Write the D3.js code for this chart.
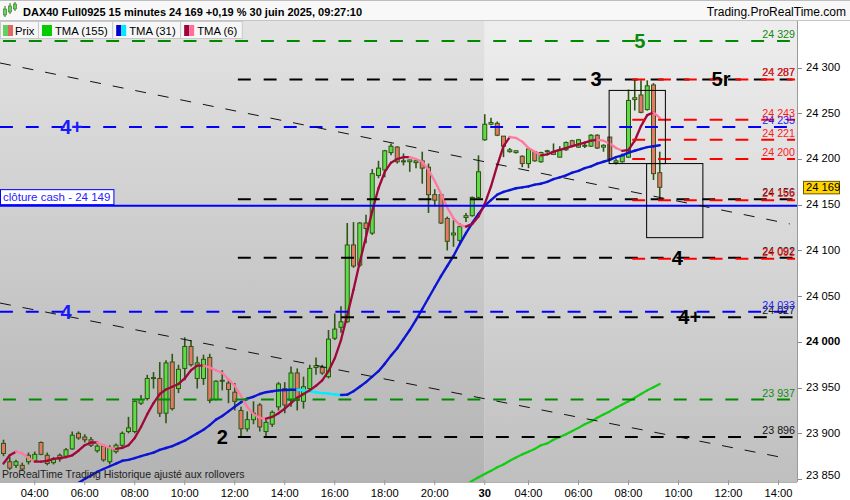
<!DOCTYPE html>
<html><head><meta charset="utf-8">
<script src="https://cdn.jsdelivr.net/npm/d3@7/dist/d3.min.js"></script>
<style>
body{margin:0;background:#fff;}
svg{display:block;font-family:"Liberation Sans",Arial,sans-serif;}
</style></head><body>
<svg id="c" width="850" height="500"></svg>
<script>
// ---------- DATA ----------
const opens=[23889,23869,23865,23865,23869,23870,23890,23876,23868,23876,
23875,23883,23900,23896,23893,23881,23886,23869,23880,23887,
23902,23902,23933,23938,23960,23960,23922,23978,23949,23971,
23995,23960,23960,23983,23937,23957,23955,23945,23925,23905,
23915,23931,23902,23910,23929,23949,23936,23966,23935,23949,
23972,23972,23962,24004,24016,24022,24106,24084,24130,24119,
24182,24188,24207,24213,24198,24197,24196,24198,24191,24161,
24161,24135,24117,24111,24136,24138,24158,24221,24238,24239,
24225,24208,24207,24203,24195,24208,24197,24208,24208,24202,
24210,24220,24213,24214,24214,24226,24213,24224,24196,24197,
24202,24265,24270,24254,24281,24185];
const highs=[23893,23874,23871,23868,23879,23880,23891,23879,23874,23878,
23884,23902,23902,23899,23896,23888,23888,23887,23889,23902,
23918,23936,23942,23964,23967,23978,23980,23987,23975,24005,
24002,23984,23986,23987,23958,23969,23958,23955,23929,23924,
23935,23933,23916,23925,23956,23956,23973,23971,23962,23975,
23983,23975,24013,24031,24039,24130,24131,24131,24139,24189,
24198,24210,24217,24214,24206,24199,24199,24208,24195,24167,
24161,24137,24133,24130,24141,24159,24204,24249,24245,24241,
24225,24212,24209,24204,24212,24208,24208,24210,24217,24214,
24219,24221,24222,24218,24227,24227,24216,24224,24200,24206,
24276,24287,24286,24286,24283,24208];
const lows=[23875,23860,23862,23859,23866,23868,23876,23865,23866,23869,
23873,23882,23893,23890,23885,23879,23869,23866,23878,23885,
23900,23900,23931,23936,23949,23918,23911,23925,23944,23958,
23973,23949,23953,23933,23936,23947,23933,23925,23896,23902,
23910,23902,23896,23907,23925,23922,23929,23925,23927,23947,
23964,23964,23960,24002,24010,24021,24081,24082,24108,24117,
24179,24180,24204,24195,24193,24186,24190,24173,24141,24148,
24129,24100,24104,24106,24131,24137,24157,24220,24237,24225,
24202,24207,24206,24191,24190,24197,24196,24207,24205,24202,
24209,24213,24212,24212,24213,24211,24208,24199,24194,24196,
24201,24253,24250,24253,24177,24156];
const closes=[23878,23862,23869,23861,23876,23877,23877,23867,23872,23872,
23882,23898,23895,23893,23887,23886,23871,23884,23887,23900,
23906,23935,23937,23960,23961,23922,23977,23927,23970,23995,
23975,23977,23981,23936,23957,23958,23948,23935,23905,23915,
23922,23907,23912,23923,23954,23931,23966,23936,23951,23971,
23974,23966,24003,24014,24022,24106,24083,24130,24124,24184,
24190,24209,24214,24197,24197,24199,24198,24190,24161,24155,
24130,24110,24119,24126,24138,24158,24186,24238,24240,24226,
24214,24210,24209,24195,24211,24198,24207,24209,24205,24210,
24218,24214,24221,24215,24226,24212,24215,24200,24198,24204,
24264,24267,24251,24280,24184,24169];
const tma6=[23867,23876,23880,23878,23873,23869,23869,23870,23872,23873,
23874,23876,23881,23887,23890,23890,23887,23884,23883,23884,
23887,23895,23907,23921,23933,23943,23948,23951,23954,23960,
23969,23974,23974,23972,23969,23966,23959,23952,23941,23929,
23921,23917,23916,23918,23922,23927,23933,23939,23943,23947,
23952,23958,23968,23982,24002,24029,24057,24087,24115,24143,
24168,24186,24196,24200,24202,24202,24200,24197,24188,24176,
24162,24147,24135,24128,24126,24129,24137,24151,24170,24193,
24214,24224,24223,24219,24212,24208,24204,24205,24208,24210,
24212,24214,24216,24218,24220,24221,24220,24217,24212,24209,
24210,24220,24236,24248,24251,24245];
const tma31=[null,null,null,null,null,null,null,null,null,null,
null,null,23846,23850,23854,23858,23861,23864,23867,23870,
23871,23873,23875,23877,23879,23882,23884,23886,23889,23892,
23896,23900,23904,23909,23915,23919,23924,23929,23934,23938,
23940,23943,23945,23946,23947,23947.3,23947.6,23947.7,23947.2,23946,
23945,23944,23943.5,23942.5,23942,23942.4,23946,23951,23956,23962,
23968,23976,23985,23993,24003,24013,24024,24036,24048,24060,
24072,24083,24094,24107,24119,24130,24140,24149,24155,24161,
24164,24166,24168,24169,24170,24172,24173,24175,24178,24180,
24182,24185,24187,24190,24192,24195,24197,24199,24202,24204,
24207,24209,24211,24213,24214,24215];
const tma155=[null,null,null,null,null,null,null,null,null,null,
null,null,null,null,null,null,null,null,null,null,
null,null,null,null,null,null,null,null,null,null,
null,null,null,null,null,null,null,null,null,null,
null,null,null,null,null,null,null,null,null,null,
null,null,null,null,null,null,null,null,null,null,
null,null,null,null,null,null,null,null,null,null,
null,null,null,null,23844,23848,23852,23855.5,23859,23863,
23866,23870,23873.5,23877,23880,23883,23887,23889,23893,23896,
23899,23902.5,23906,23910,23913,23917,23920.5,23924,23928,23931.5,
23935,23939,23943,23947,23950.5,23954];

const timeTickBars=[5,13,21,29,37,45,53,61,69,77,84,92,100,108,116,124];
const timeTickLabels=["04:00","06:00","08:00","10:00","12:00","14:00","16:00","18:00","20:00","30","04:00","06:00","08:00","10:00","12:00","14:00"];
const priceTicks=[23850,23900,23950,24000,24050,24100,24150,24200,24250,24300];
const dayStartBar=77;

const greenLevels=[24329,23937];
const blueLevels=[24235,24033];
const blackLevels=[24287,24156,24092,24027,23896];
const redLevels=[24287,24243,24221,24200,24155,24091];
const blackStartBar=37.5;
const redStartBar=100.6;
const cashClose=24149;
const lastPrice=24169;

const trendLines=[{i0:-0.56,p0:24305,i1:125.8,p1:24129},{i0:-0.56,p0:24042.5,i1:125.8,p1:23872}];
const boxes=[{i0:96.9,i1:105.9,p0:24275,p1:24195},{i0:102.9,i1:111.9,p0:24195,p1:24114}];
const waveText=["5","3","5r","4","4+","2","4+","4"];
const waveBar=[101.8,94.8,114.8,107.8,109.8,35,10.9,10];
const wavePrice=[24329,24287,24287,24092,24027,23896,24235,24033];
const waveGroup=["green","black","black","black","black","black","blue","blue"];

const legendLabels=["Prix","TMA (155)","TMA (31)","TMA (6)"];

// ---------- SETUP ----------
const svg=d3.select("#c");
const W=850,H=500,pL=0,pR=797,pT=21,pB=482;
const x=d3.scaleLinear().domain([-0.56,126.96]).range([pL,pR]);
const y=d3.scaleLinear().domain([23846.8,24350.9]).range([pB,pT]);
const fmt=v=>d3.format(",d")(Math.round(v)).replace(/,/g," ");
const FS=10.7;
const col={green:"#008a00",blue:"#0000ff",black:"#000000",red:"#ff0000"};
const txtCol={green:"#118811",blue:"#2222ff",black:"#111111",red:"#ff1a1a"};

const defs=svg.append("defs");
function grad(id,c1,c2){const g=defs.append("linearGradient").attr("id",id).attr("x1",0).attr("y1",0).attr("x2",0).attr("y2",1);
g.append("stop").attr("offset","0%").attr("stop-color",c1);g.append("stop").attr("offset","100%").attr("stop-color",c2);}
grad("gL","#e3e3e3","#b3b3b3");
grad("gR","#eeeeee","#bfbfbf");
defs.append("clipPath").attr("id","clip").append("rect").attr("x",pL).attr("y",pT).attr("width",pR-pL).attr("height",pB-pT);

svg.append("rect").attr("width",W).attr("height",H).attr("fill","#ffffff");
svg.append("rect").attr("x",pL).attr("y",pT).attr("width",x(dayStartBar)-pL).attr("height",pB-pT).attr("fill","url(#gL)");
svg.append("rect").attr("x",x(dayStartBar)).attr("y",pT).attr("width",pR-x(dayStartBar)).attr("height",pB-pT).attr("fill","url(#gR)");

// header
svg.append("rect").attr("x",0).attr("y",0).attr("width",W).attr("height",pT).attr("fill","#f8f8f8");
svg.append("line").attr("x1",0).attr("x2",W).attr("y1",0.5).attr("y2",0.5).attr("stroke","#bdbdbd");
svg.append("line").attr("x1",0).attr("x2",W).attr("y1",pT-0.5).attr("y2",pT-0.5).attr("stroke","#c4c4c4");
const icon=svg.append("g");
[[5,9,15,6,17],[10,6,12,3,14],[15,4,9,2,11]].forEach(a=>{
  icon.append("line").attr("x1",a[0]).attr("x2",a[0]).attr("y1",a[3]).attr("y2",a[4]).attr("stroke","#3a6a1a").attr("stroke-width",1);
  icon.append("rect").attr("x",a[0]-1.5).attr("y",a[1]).attr("width",3).attr("height",a[2]-a[1]).attr("fill","#5fd35f").attr("stroke","#3a6a1a").attr("stroke-width",0.6);
});
svg.append("text").attr("x",23).attr("y",15.5).attr("font-size",FS+0.3).attr("font-weight","bold").attr("fill","#000")
  .text("DAX40 Full0925 15 minutes 24 169 +0,19 % 30 juin 2025, 09:27:10");
svg.append("text").attr("x",846).attr("y",15.5).attr("text-anchor","end").attr("font-size",12).attr("fill","#000").text("Trading.ProRealTime.com");

const plot=svg.append("g").attr("clip-path","url(#clip)");

// ---------- CANDLES ----------
const bars=d3.range(opens.length).map(i=>({i,o:opens[i],h:highs[i],l:lows[i],c:closes[i]}));
plot.append("g").selectAll("line").data(bars).join("line")
  .attr("x1",d=>x(d.i)).attr("x2",d=>x(d.i)).attr("y1",d=>y(d.h)).attr("y2",d=>y(d.l))
  .attr("stroke","#2f5514").attr("stroke-width",1.6);
plot.append("g").selectAll("rect").data(bars).join("rect")
  .attr("x",d=>x(d.i)-2).attr("width",4)
  .attr("y",d=>y(Math.max(d.o,d.c))).attr("height",d=>Math.max(1,Math.abs(y(d.o)-y(d.c))))
  .attr("fill",d=>d.c>=d.o?"#5edc48":"#e57868").attr("stroke","#2f5514").attr("stroke-width",1);

// ---------- MOVING AVERAGES ----------
function drawMA(vals,up,down,w){
  const segs=[];
  for(let i=0;i<vals.length-1;i++){
    if(vals[i]==null||vals[i+1]==null)continue;
    segs.push({i,a:vals[i],b:vals[i+1]});
  }
  plot.append("g").selectAll("line").data(segs).join("line")
    .attr("x1",d=>x(d.i)).attr("x2",d=>x(d.i+1)).attr("y1",d=>y(d.a)).attr("y2",d=>y(d.b))
    .attr("stroke",d=>d.b>=d.a?up:down).attr("stroke-width",w).attr("stroke-linecap","round");
}
drawMA(tma155,"#11cc11","#11cc11",2.2);
drawMA(tma31,"#0a14d4","#00eeff",2.4);
drawMA(tma6,"#a0083c","#ff78a0",2.3);

// ---------- LEVEL LINES ----------
const period=25.8;
function levelLines(vals,startBar,color,phase){
  const x1=startBar==null?pL:x(startBar);
  const off=((x1-phase)%period+period)%period;
  plot.append("g").selectAll("line").data(vals).join("line")
    .attr("x1",x1).attr("x2",pR-2).attr("y1",d=>y(d)).attr("y2",d=>y(d))
    .attr("stroke",color).attr("stroke-width",2)
    .attr("stroke-dasharray",(period/2)+","+(period/2)).attr("stroke-dashoffset",off);
}
levelLines(greenLevels,null,col.green,3);
levelLines(blueLevels,null,col.blue,0);
levelLines(blackLevels,blackStartBar,col.black,x(blackStartBar));
levelLines(redLevels,redStartBar,col.red,x(redStartBar));

plot.append("line").attr("x1",pL).attr("x2",pR).attr("y1",y(cashClose)).attr("y2",y(cashClose))
  .attr("stroke","#0000ff").attr("stroke-width",2);

plot.append("g").selectAll("line").data(trendLines).join("line")
  .attr("x1",d=>x(d.i0)).attr("y1",d=>y(d.p0)).attr("x2",d=>x(d.i1)).attr("y2",d=>y(d.p1))
  .attr("stroke","#111").attr("stroke-width",1).attr("stroke-dasharray","11,12");

plot.append("g").selectAll("rect").data(boxes).join("rect")
  .attr("x",d=>x(d.i0)).attr("y",d=>y(d.p0)).attr("width",d=>x(d.i1)-x(d.i0)).attr("height",d=>y(d.p1)-y(d.p0))
  .attr("fill","none").attr("stroke","#000").attr("stroke-width",1);

// ---------- LEVEL LABELS ----------
function levelLabels(vals,c){
  plot.append("g").selectAll("text").data(vals).join("text")
    .attr("x",795).attr("y",d=>y(d)-3).attr("text-anchor","end").attr("font-size",FS)
    .attr("fill",c).text(d=>fmt(d));
}
levelLabels(greenLevels,txtCol.green);
levelLabels(blackLevels,txtCol.black);
levelLabels(blueLevels,txtCol.blue);
levelLabels(redLevels,txtCol.red);

const waves=waveText.map((t,k)=>({t,i:waveBar[k],p:wavePrice[k],g:waveGroup[k]}));
plot.append("g").selectAll("text").data(waves).join("text")
  .attr("x",d=>x(d.i)).attr("y",d=>y(d.p)+7).attr("text-anchor","middle")
  .attr("font-size",20).attr("font-weight","bold")
  .attr("fill",d=>d.g==="green"?"#0a8a0a":d.g==="blue"?"#1a1aff":"#000").text(d=>d.t);

// cash label
const cashG=svg.append("g");
const cashT=cashG.append("text").attr("x",3).attr("y",y(cashClose)-4.5).attr("font-size",FS+0.8).attr("fill","#2a1aff")
  .text("clôture cash -  "+fmt(cashClose));
const cw=cashT.node().getComputedTextLength();
cashG.insert("rect","text").attr("x",0.5).attr("y",y(cashClose)-16).attr("width",cw+6).attr("height",15)
  .attr("fill","#ffffff").attr("stroke","#0000ff").attr("stroke-width",1);

svg.append("text").attr("x",2).attr("y",478).attr("font-size",10.5).attr("fill","#222")
  .text("ProRealTime Trading  Historique ajusté aux rollovers");

// ---------- LEGEND ----------
const legColors=[["#5fd35f","#e06666"],["#00cc00","#00cc00"],["#0000d0","#00e8ff"],["#a0003c","#ff6f99"]];
let lx=0.5;
legendLabels.forEach((lab,k)=>{
  const g=svg.append("g");
  const pad=k===0?14.5:16.5;
  const t=g.append("text").attr("x",lx+pad).attr("y",34.5).attr("font-size",FS+0.6).attr("fill","#000").text(lab);
  const tw=t.node().getComputedTextLength();
  const bw=pad+tw+(k===0?4:5);
  g.insert("rect","text").attr("x",lx).attr("y",21.5).attr("width",bw).attr("height",17).attr("fill","#f6f6f6").attr("stroke","#c9c9c9");
  const sx=lx+(k===0?2.5:3.5);
  g.append("rect").attr("x",sx).attr("y",25).attr("width",5).attr("height",11).attr("fill",legColors[k][0]);
  g.append("rect").attr("x",sx+5).attr("y",25).attr("width",5).attr("height",11).attr("fill",legColors[k][1]);
  lx+=bw;
});

// ---------- AXES ----------
const ax=svg.append("g");
ax.append("line").attr("x1",pR+0.5).attr("x2",pR+0.5).attr("y1",pT).attr("y2",pB).attr("stroke","#9a9a9a");
ax.append("line").attr("x1",pL).attr("x2",pR).attr("y1",pB+0.5).attr("y2",pB+0.5).attr("stroke","#b0b0b0");
ax.append("g").selectAll("line").data(priceTicks).join("line")
  .attr("x1",pR+1).attr("x2",pR+5).attr("y1",d=>Math.round(y(d))+0.5).attr("y2",d=>Math.round(y(d))+0.5).attr("stroke","#8a8a8a");
ax.append("g").selectAll("text").data(priceTicks).join("text")
  .attr("x",806).attr("y",d=>Math.min(y(d)+3.5,479)).attr("font-size",FS+0.5).attr("fill","#000")
  .attr("font-weight",d=>d===24000?"bold":"normal").text(d=>fmt(d));
const tt=timeTickBars.map((b,k)=>({b,l:timeTickLabels[k]}));
ax.append("g").selectAll("line").data(tt).join("line")
  .attr("x1",d=>x(d.b)).attr("x2",d=>x(d.b)).attr("y1",pB-2).attr("y2",pB+3).attr("stroke","#9a9a9a");
ax.append("g").selectAll("text").data(tt).join("text")
  .attr("x",d=>x(d.b)).attr("y",496.5).attr("text-anchor","middle").attr("font-size",FS+0.5)
  .attr("font-weight",d=>d.l==="30"?"bold":"normal").attr("fill","#000").text(d=>d.l);

const lp=svg.append("g");
lp.append("rect").attr("x",803.5).attr("y",y(lastPrice)-6).attr("width",36).attr("height",12.5)
  .attr("fill","#ffd400").attr("stroke","#6a5a00").attr("stroke-width",1);
lp.append("text").attr("x",806).attr("y",y(lastPrice)+4).attr("font-size",FS+0.5).attr("fill","#000").text(fmt(lastPrice));
</script>
</body></html>
